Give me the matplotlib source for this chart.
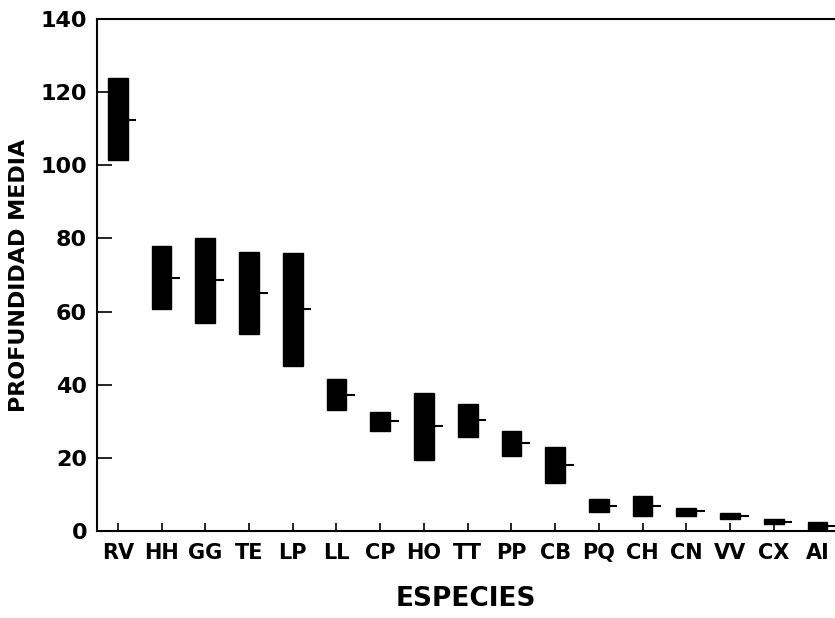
import numpy as np
import matplotlib

matplotlib.use('Agg')
import matplotlib.pyplot as plt

species = ["RV", "HH", "GG", "TE", "LP", "LL", "CP", "HO", "TT",
           "PP", "CB", "PQ", "CH", "CN", "VV", "CX", "AI"]
low = [101.6, 60.7, 57.0, 53.9, 45.2, 33.0, 27.4, 19.5, 25.8,
       20.6, 13.1, 5.1, 4.0, 4.1, 3.2, 1.8, 0.2]
high = [123.8, 78.0, 80.1, 76.4, 76.1, 41.6, 32.5, 37.6, 34.6,
        27.3, 23.0, 8.6, 9.5, 6.2, 5.0, 3.2, 2.3]
mean = [112.5, 69.3, 68.5, 65.0, 60.6, 37.3, 30.0, 28.6, 30.2,
        24.1, 18.0, 6.8, 6.8, 5.4, 4.2, 2.5, 1.2]

plt.rcParams['font.family'] = ['DejaVu Sans']
plt.rcParams['font.weight'] = 'bold'

fig = plt.figure(figsize=(8.35, 6.18), dpi=100)
ax = fig.add_axes([0.116, 0.141, 0.884, 0.828])

x = np.arange(len(species))
w = 0.45
low = np.array(low)
high = np.array(high)
ax.bar(x, high - low, bottom=low, width=w, color='black', edgecolor='black')
ax.hlines(mean, x + w / 2, x + w / 2 + 0.2, color='black', linewidth=1.5)

ax.set_xlim(-0.48, 16.4)
ax.set_ylim(0, 140)
ax.set_yticks(range(0, 141, 20))
ax.set_xticks(x)
ax.set_xticklabels(species)

ax.spines['right'].set_visible(False)
for s in ['left', 'bottom', 'top']:
    ax.spines[s].set_linewidth(1.5)

ax.tick_params(axis='y', direction='in', length=11, width=1.2,
               labelsize=16, pad=7)
ax.tick_params(axis='x', direction='in', length=6, width=1.2,
               labelsize=15, pad=9)

ax.set_ylabel("PROFUNDIDAD MEDIA", fontsize=16, fontweight='bold', labelpad=8)
ax.set_xlabel("ESPECIES", fontsize=19, fontweight='bold', labelpad=16)

plt.savefig("out.png", dpi=100)
